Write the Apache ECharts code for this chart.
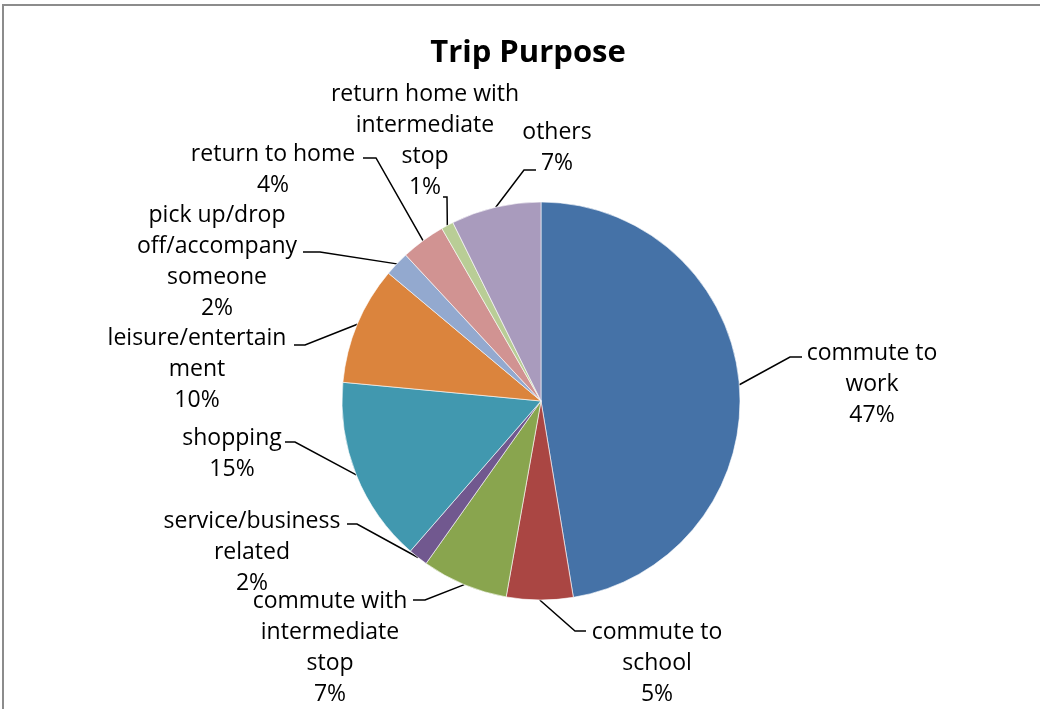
<!DOCTYPE html>
<html>
<head>
<meta charset="utf-8">
<title>Trip Purpose</title>
<script src="https://cdn.jsdelivr.net/npm/echarts@6/dist/echarts.min.js"></script>
<style>
  html, body { margin: 0; padding: 0; background: #fff; }
  #chart { width: 1040px; height: 709px; }
</style>
</head>
<body>
<div id="chart"></div>
<script>
// Trip purpose shares (percent of all trips), clockwise from 12 o'clock
const categories = [
  'commute to work',
  'commute to school',
  'commute with intermediate stop',
  'service/business related',
  'shopping',
  'leisure/entertainment',
  'pick up/drop off/accompany someone',
  'return to home',
  'return home with intermediate stop',
  'others'
];
const shares = [47.4, 5.4, 7.0, 1.6, 15.1, 9.6, 2.0, 3.6, 1.0, 7.3];

// Wrapped label text, one entry per category
const labelLines = [
  ['commute to', 'work'],
  ['commute to', 'school'],
  ['commute with', 'intermediate', 'stop'],
  ['service/business', 'related'],
  ['shopping'],
  ['leisure/entertain', 'ment'],
  ['pick up/drop', 'off/accompany', 'someone'],
  ['return to home'],
  ['return home with', 'intermediate', 'stop'],
  ['others']
];

const colors = ['#4572A7', '#AA4643', '#89A54E', '#71588F', '#4198AF',
                '#DB843D', '#93A9CF', '#D19392', '#B9CD96', '#A99BBD'];

// Label placement: text block centre x, first line centre y,
// leader elbow and leader end next to the text
const labelPlacement = [
  { cx: 872, y: 353, elbow: [790, 357], end: [802, 357] },
  { cx: 657, y: 632, elbow: [575, 631], end: [586, 631] },
  { cx: 330, y: 601, elbow: [425, 600], end: [413, 600] },
  { cx: 252, y: 521, elbow: [357, 524], end: [347, 524] },
  { cx: 232, y: 438, elbow: [295, 442], end: [285, 442] },
  { cx: 197, y: 338, elbow: [305, 345], end: [294, 345] },
  { cx: 217, y: 215, elbow: [320, 252], end: [303, 252] },
  { cx: 273, y: 154, elbow: [376, 158], end: [363, 158] },
  { cx: 425, y: 94,  elbow: [447, 197], end: [443, 197] },
  { cx: 557, y: 132, elbow: [524, 170], end: [536, 170] }
];

const LINE_H = 31;
const FONT = '"Open Sans", Lato, sans-serif';

const chart = echarts.init(document.getElementById('chart'), null, { renderer: 'canvas' });

chart.setOption({
  animation: false,
  backgroundColor: '#ffffff',
  color: colors,
  title: {
    text: 'Trip Purpose',
    left: 523,
    top: 33,
    textAlign: 'center',
    textStyle: { fontFamily: FONT, fontSize: 31, fontWeight: 'bold', color: '#000' }
  },
  graphic: [{
    type: 'rect',
    shape: { x: 3, y: 5, width: 1100, height: 800 },
    style: { fill: 'none', stroke: '#8c8c8c', lineWidth: 2 },
    silent: true
  }],
  series: [{
    type: 'pie',
    center: [541, 401],
    radius: 199,
    startAngle: 90,
    clockwise: true,
    percentPrecision: 0,
    avoidLabelOverlap: false,
    itemStyle: { borderColor: '#ffffff', borderWidth: 0.6 },
    label: {
      show: true,
      position: 'outside',
      fontFamily: FONT,
      fontSize: 23,
      lineHeight: LINE_H,
      color: '#000',
      align: 'center',
      formatter: p => labelLines[p.dataIndex].join('\n') + '\n' + p.percent + '%'
    },
    labelLine: {
      show: true,
      lineStyle: { color: '#000', width: 1.5 }
    },
    labelLayout: params => {
      const lp = labelPlacement[params.dataIndex];
      const start = params.labelLinePoints ? params.labelLinePoints[0] : lp.elbow;
      return {
        x: lp.cx,
        y: lp.y - LINE_H / 2,
        align: 'center',
        verticalAlign: 'top',
        labelLinePoints: [start, lp.elbow, lp.end]
      };
    },
    data: categories.map((name, i) => ({ name, value: shares[i] }))
  }]
});
</script>
</body>
</html>
